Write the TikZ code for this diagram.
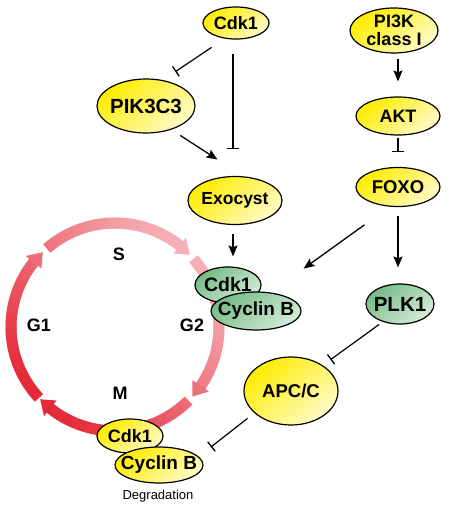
\documentclass[tikz,border=0pt]{standalone}
\usepackage{fontspec}
\setmainfont{Liberation Sans}
\usetikzlibrary{shapes.geometric,arrows.meta}
\definecolor{ylw}{RGB}{255,236,0}
\definecolor{ylwl}{RGB}{255,251,200}
\definecolor{grn}{RGB}{118,187,136}
\definecolor{grnl}{RGB}{212,236,215}
\definecolor{rred}{RGB}{228,42,56}
\definecolor{rpale}{RGB}{246,176,183}
\tikzset{
  lbl/.style={font=\fontsize{#1}{18}\selectfont\bfseries, text=black, inner sep=0pt, align=center},
  lbl/.default=18,
  yel/.style={ellipse, draw=black, line width=1.2pt, inner sep=0pt,
    top color=ylw, middle color=ylw, bottom color=ylwl, shading angle=40},
  grnode/.style={ellipse, draw=black, line width=1.2pt, inner sep=0pt,
    top color=grn, middle color=grn!85!grnl, bottom color=grnl, shading angle=40},
  act/.style={-{Stealth[length=11pt,width=9pt,inset=2pt]}, line width=1.3pt},
  inh/.style={-{Bar[width=12pt,line width=1.3pt]}, line width=1.2pt},
  cyc/.style={font=\fontsize{18}{18}\selectfont\bfseries, inner sep=0pt},
}
\begin{document}
\begin{tikzpicture}[x=1pt,y=-1pt]
\useasboundingbox (0,0) rectangle (454,506);
% cell cycle ring
\begin{scope}[shift={(115,327)}, yscale=-1]
  \foreach \a/\b in {223/134, 131/44, 41/-42, -45/-136} {
    \pgfmathsetmacro{\bb}{\b+7}
    \pgfmathtruncatemacro{\n}{\a-\b-7}
    \foreach \i in {0,...,\n} {
      \pgfmathsetmacro{\th}{\a-\i}
      \pgfmathsetmacro{\thh}{max(\th-1.6,\bb)}
      \pgfmathsetmacro{\t}{50*(1+cos(\th-45))}
      \draw[line width=11pt, draw=rpale!\t!rred] (\th:104) arc[start angle=\th, end angle=\thh, radius=104];
    }
    \pgfmathsetmacro{\t}{50*(1+cos(\b-45))}
    \fill[fill=rpale!\t!rred] (\bb+0.5:94) -- (\b:104) -- (\bb+0.5:114) -- cycle;
  }
\end{scope}
\node[cyc] (s) at (119,254) {S};
\node[cyc] (g1) at (39,325) {G1};
\node[cyc] (g2) at (192,325) {G2};
\node[cyc] (m) at (120,393) {M};
% nodes
\node[yel, minimum width=66pt, minimum height=32pt, label={[lbl]center:Cdk1}] (cdk) at (236,23) {};
\node[yel, minimum width=88pt, minimum height=45pt, label={[lbl]center:PI3K\\class I}] (pi3k) at (394,30.5) {};
\node[yel, minimum width=98pt, minimum height=54pt, label={[lbl=20.5]center:PIK3C3}] (pik) at (146,106) {};
\node[yel, minimum width=84pt, minimum height=38pt, label={[lbl]center:AKT}] (akt) at (398,116) {};
\node[yel, minimum width=84pt, minimum height=39pt, label={[lbl=18.5]center:FOXO}] (foxo) at (398,187) {};
\node[yel, minimum width=94pt, minimum height=48pt, label={[lbl=17.5]center:Exocyst}] (exo) at (235,200.5) {};
\node[grnode, minimum width=66pt, minimum height=36pt, label={[lbl=19.5]center:Cdk1}] (gcdk) at (228,285) {};
\node[grnode, minimum width=90pt, minimum height=38pt, label={[lbl=19]center:Cyclin B}] (gcyc) at (256,311) {};
\node[grnode, minimum width=68pt, minimum height=40pt, label={[lbl=20.5]center:PLK1}] (plk) at (400,304) {};
\node[yel, minimum width=94pt, minimum height=68pt, label={[lbl=18.5]center:APC/C}] (apc) at (291,391) {};
\node[yel, minimum width=66pt, minimum height=34pt, label={[lbl=18]center:Cdk1}] (bcdk) at (130,436) {};
\node[yel, minimum width=88pt, minimum height=36pt, label={[lbl=19]center:Cyclin B}] (bcyc) at (159,465) {};
\node[font=\fontsize{13}{13}\selectfont, inner sep=0pt] (deg) at (158,496) {Degradation};
% connectors
\draw[inh, shorten <=15.7pt, shorten >=15pt] (cdk.234) -- (pik.57);
\draw[inh, shorten <=14pt, shorten >=26.5pt] ([xshift=-3pt]cdk.south) -- ([xshift=-3pt]cdk.south |- exo.north);
\draw[act, shorten <=10.5pt, shorten >=30.8pt] (pik.317.6) -- (exo.71.7);
\draw[act, shorten <=5pt, shorten >=15pt] (akt.north |- pi3k.south) -- (akt.north);
\draw[inh, shorten <=2pt, shorten >=14.5pt] (akt.south) -- (foxo.north);
\draw[act, shorten <=8.5pt, shorten >=16pt] (foxo.south) -- (foxo.south |- plk.north);
\draw[act, shorten <=31pt, shorten >=40.7pt] (foxo.247) -- (gcyc.52);
\draw[act, shorten <=8.5pt, shorten >=10pt] ([xshift=-2pt]exo.south) -- ([xshift=-2pt]exo.south |- gcdk.north);
\draw[inh, shorten <=4.5pt, shorten >=9.5pt] (plk.226.5) -- (apc.39);
\draw[inh, shorten <=8.6pt, shorten >=15.5pt] (apc.211.5) -- (bcyc.12.5);
\end{tikzpicture}
\end{document}
